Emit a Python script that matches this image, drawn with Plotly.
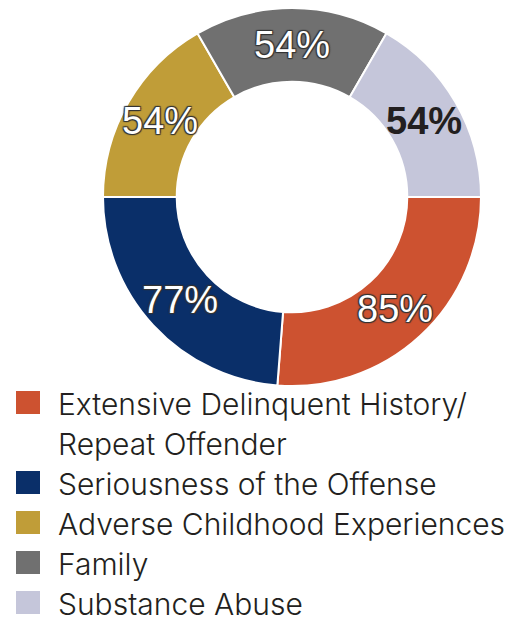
import math
import plotly.graph_objects as go

# Share of cases citing each factor (%)
categories = [
    "Extensive Delinquent History/\nRepeat Offender",
    "Seriousness of the Offense",
    "Adverse Childhood Experiences",
    "Family",
    "Substance Abuse",
]
percentages = [85, 77, 54, 54, 54]
colors = ["#CD5230", "#0A2F69", "#C09D38", "#707070", "#C5C6DA"]
label_colors = ["#FFFFFF", "#FFFFFF", "#FFFFFF", "#FFFFFF", "#231F20"]
label_weights = [400, 400, 400, 400, 700]
outline = "-1px -1px 1px #333, 1px -1px 1px #333, -1px 1px 1px #333, 1px 1px 1px #333"
label_shadows = [outline] * 4 + ["none"]

W, H = 532, 619
cx, cy, r_out = 292, 197, 189  # donut centre and outer radius in pixels
hole = 0.61

fig = go.Figure(
    go.Pie(
        labels=[c.replace("\n", " ") for c in categories],
        values=percentages,
        marker=dict(colors=colors, line=dict(color="white", width=2)),
        hole=hole,
        sort=False,
        direction="clockwise",
        rotation=90,
        textinfo="none",
        hoverinfo="label+value",
        domain=dict(
            x=[(cx - r_out) / W, (cx + r_out) / W],
            y=[(H - cy - r_out) / H, (H - cy + r_out) / H],
        ),
        showlegend=False,
    )
)

annotations, shapes = [], []

# Value labels at the middle of each ring segment (fixed size, may overhang)
total = sum(percentages)
r_mid = r_out * (1 + hole) / 2
cum = 0
for v, fc, fw, sh in zip(percentages, label_colors, label_weights, label_shadows):
    ang = math.radians((cum + v / 2) / total * 360)  # clockwise from 3 o'clock
    px = cx + r_mid * math.cos(ang)
    py = cy + r_mid * math.sin(ang)
    cum += v
    annotations.append(dict(
        text=f"{v}%", xref="paper", yref="paper",
        x=px / W, y=1 - py / H, xanchor="center", yanchor="middle",
        showarrow=False,
        font=dict(family="Liberation Sans, Arial, sans-serif", size=38,
                  color=fc, weight=fw, shadow=sh),
    ))

# Custom legend: square swatch + light text, 40px row pitch
row = 0
first_baseline, pitch, cap_half = 413, 40, 10.5
for cat, col in zip(categories, colors):
    for j, line in enumerate(cat.split("\n")):
        ymid = first_baseline + row * pitch - cap_half
        if j == 0:
            shapes.append(dict(
                type="rect", xref="paper", yref="paper",
                x0=16 / W, x1=40 / W,
                y0=1 - (ymid + 11.5) / H, y1=1 - (ymid - 11.5) / H,
                fillcolor=col, line=dict(width=0),
            ))
        annotations.append(dict(
            text=line, xref="paper", yref="paper",
            x=56 / W, y=1 - (ymid + 1) / H,
            xanchor="left", yanchor="middle", showarrow=False,
            font=dict(family="Inter, sans-serif", size=30, color="#231F20", weight=300),
        ))
        row += 1

fig.update_layout(
    width=W, height=H,
    margin=dict(l=0, r=0, t=0, b=0),
    paper_bgcolor="white",
    plot_bgcolor="white",
    shapes=shapes,
    annotations=annotations,
)

fig.write_html("out.html")
